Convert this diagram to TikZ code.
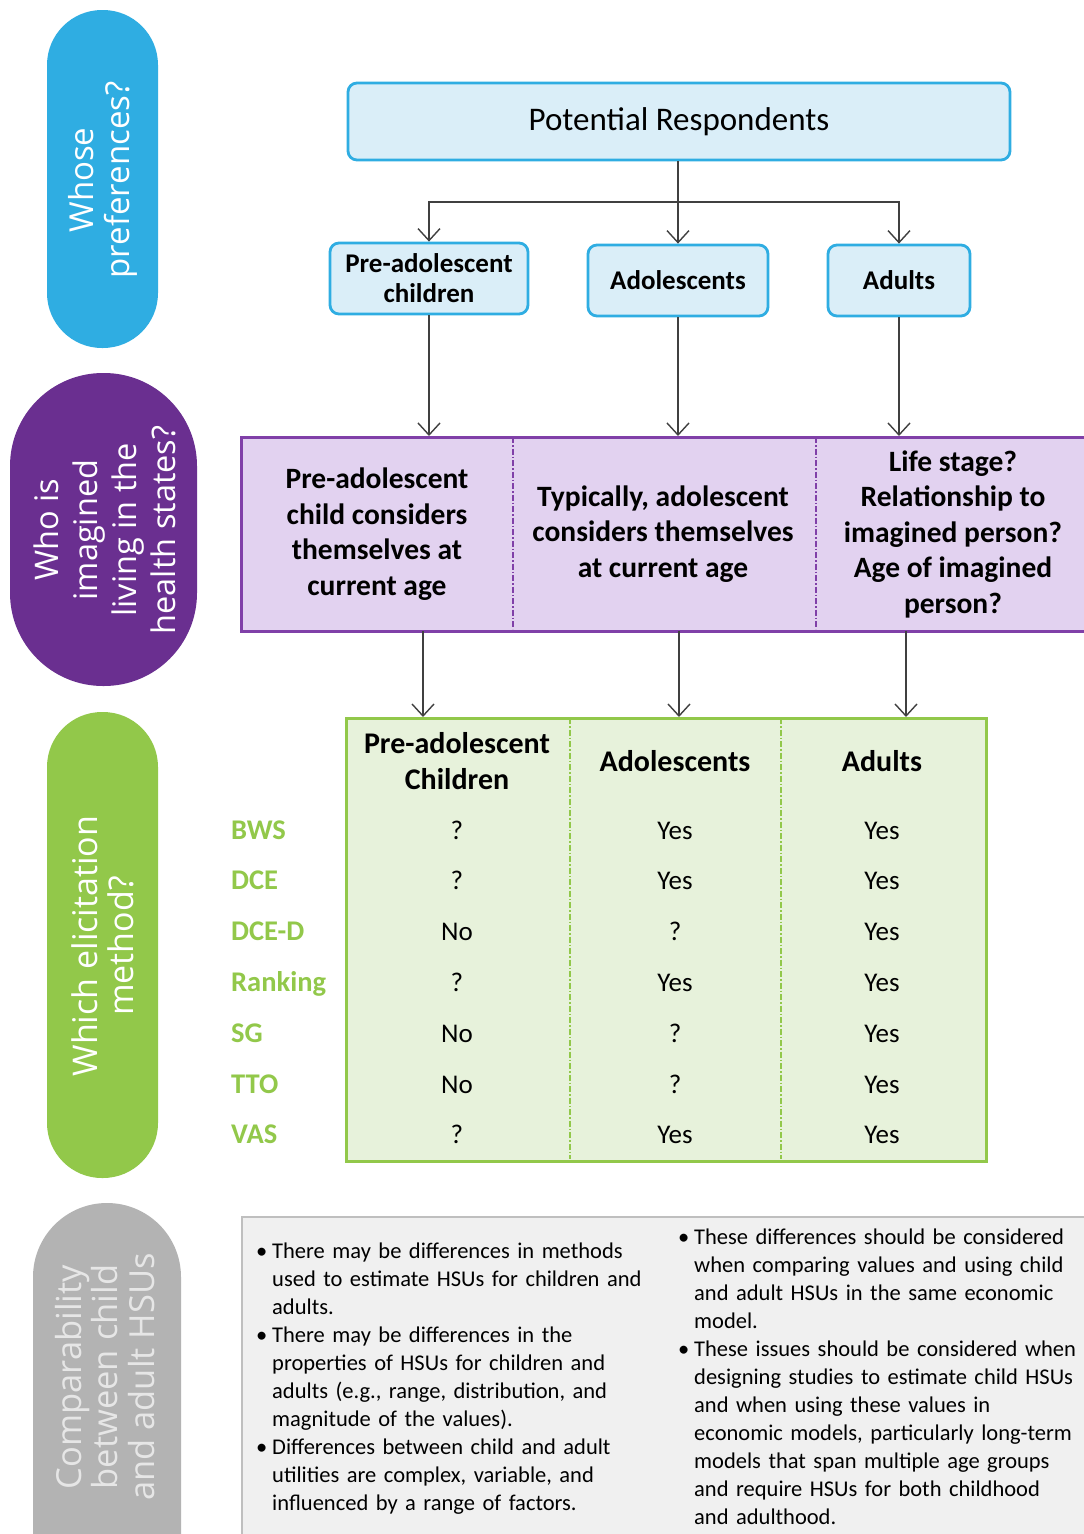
\documentclass[tikz,border=0pt]{standalone}
\usepackage{fontspec}
\setmainfont{Carlito}
\newfontfamily\pillfont{Open Sans}
\usetikzlibrary{arrows.meta}
\definecolor{cblue}{HTML}{2FADE2}
\definecolor{cbluefill}{HTML}{DAEEF8}
\definecolor{cpurple}{HTML}{6A2F90}
\definecolor{cpurpleline}{HTML}{8040A8}
\definecolor{cpurplefill}{HTML}{E2D2F0}
\definecolor{cgreen}{HTML}{92C84A}
\definecolor{cgreenfill}{HTML}{E7F2DB}
\definecolor{cgray}{HTML}{B3B3B3}
\definecolor{cgraytext}{HTML}{E6E6E6}
\definecolor{cgrayfill}{HTML}{F0F0F0}
\definecolor{cgrayline}{HTML}{BFBFBF}
\definecolor{cline}{HTML}{404040}
\begin{document}
\begin{tikzpicture}[x=1pt,y=-1pt,
  conn/.style={draw=cline, line width=1.4pt},
  arr/.style={conn, -{Straight Barb[length=12pt,width=22pt]}},
  bluebox/.style={draw=cblue, fill=cbluefill, line width=2.8pt, rounded corners=9pt, inner sep=0pt, align=center},
  smalltxt/.style={font=\fontsize{27}{30}\selectfont\bfseries},
  pilltxt/.style={text=white, font=\pillfont\fontsize{33}{36}\selectfont, align=center, rotate=90, inner sep=0pt},
  celltxt/.style={font=\fontsize{29.5}{35.5}\selectfont\bfseries, align=center, inner sep=0pt},
  head/.style={font=\fontsize{30}{36}\selectfont\bfseries, align=center, inner sep=0pt},
  val/.style={font=\fontsize{27}{30}\selectfont, inner sep=0pt, text height=18pt, text depth=0pt, anchor=center},
  lab/.style={font=\fontsize{28.5}{30}\selectfont\bfseries, text=cgreen, inner sep=0pt, text height=18pt, text depth=0pt, anchor=west},
  pdiv/.style={draw=cpurpleline, line width=1.1pt, dash pattern=on 6pt off 2pt on 1.5pt off 2pt},
  gdiv/.style={draw=cgreen, line width=1.1pt, dash pattern=on 6pt off 2pt on 1.5pt off 2pt},
  note/.style={font=\fontsize{22.5}{28}\selectfont, align=left, text width=420pt, inner sep=0pt, anchor=base west},
  bul/.style={font=\fontsize{22.5}{28}\selectfont, inner sep=0pt, anchor=base west}
]
\useasboundingbox (0,0) rectangle (1084,1534);
\clip (0,0) rectangle (1084,1534);
\fill[white] (0,0) rectangle (1084,1534);

% left pills
\fill[cblue, rounded corners=55pt] (47,10) rectangle (158,348);
\node[pilltxt] (q1) at (103,180) {Whose\\preferences?};
\fill[cpurple, rounded corners=93pt] (10,373) rectangle (197,686);
\node[pilltxt, font=\pillfont\fontsize{32.5}{39}\selectfont] (q2) at (105,530) {Who is\\imagined\\living in the\\health states?};
\fill[cgreen, rounded corners=55pt] (47,712) rectangle (158,1178);
\node[pilltxt, font=\pillfont\fontsize{34}{36}\selectfont] (q3) at (103,946) {Which elicitation\\method?};
\fill[cgray, rounded corners=74pt] (33,1203) rectangle (181,1640);
\node[pilltxt, text=cgraytext, font=\pillfont\fontsize{34.5}{36.5}\selectfont] (q4) at (105,1377) {Comparability\\between child\\and adult HSUs};

% top boxes
\node[bluebox, minimum width=662pt, minimum height=77pt, font=\fontsize{33}{36}\selectfont] (pot) at (679,121.5) {Potential Respondents};
\node[bluebox, smalltxt, minimum width=198pt, minimum height=71pt] (pre) at (429,278.5) {Pre-adolescent\\children};
\node[bluebox, smalltxt, minimum width=180pt, minimum height=71pt] (adol) at (678,280.5) {Adolescents};
\node[bluebox, smalltxt, minimum width=142pt, minimum height=71pt] (adul) at (899,280.5) {Adults};

\coordinate (split) at (678,202);
\draw[conn] (pot.south -| split) -- (split);
\draw[arr] (split) -| (pre.north);
\draw[arr] (split) -- (adol.north);
\draw[arr] (split) -| (adul.north);

% purple band
\node[draw=cpurpleline, fill=cpurplefill, line width=2.5pt, minimum width=870pt, minimum height=194pt, anchor=north west, inner sep=0pt] (purp) at (240,436) {};
\draw[pdiv] (513,437) -- (513,629);
\draw[pdiv] (816,437) -- (816,629);
\node[celltxt] (ca) at (377,534) {Pre-adolescent\\child considers\\themselves at\\current age};
\node[celltxt] (cb) at (663,534) {Typically, adolescent\\considers themselves\\at current age};
\node[celltxt] (cc) at (953,534) {Life stage?\\Relationship to\\imagined person?\\Age of imagined\\person?};

\draw[arr] (pre.south) -- (pre.south |- purp.north);
\draw[arr] (adol.south) -- (adol.south |- purp.north);
\draw[arr] (adul.south) -- (adul.south |- purp.north);

% green table
\node[draw=cgreen, fill=cgreenfill, line width=2.5pt, minimum width=640pt, minimum height=443pt, anchor=north west, inner sep=0pt] (tab) at (345,717) {};
\draw[gdiv] (570,718) -- (570,1159);
\draw[gdiv] (781,718) -- (781,1159);

\coordinate (d1) at (423,631);
\coordinate (d2) at (679,631);
\coordinate (d3) at (906,631);
\draw[arr] (d1) -- (d1 |- tab.north);
\draw[arr] (d2) -- (d2 |- tab.north);
\draw[arr] (d3) -- (d3 |- tab.north);

\node[head] (h1) at (457,761) {Pre-adolescent\\Children};
\node[head] (h2) at (675,761) {Adolescents};
\node[head] (h3) at (882,761) {Adults};

\node[lab] (l1) at (231,830) {BWS};
\node[lab] (l2) at (231,880) {DCE};
\node[lab] (l3) at (231,931) {DCE-D};
\node[lab] (l4) at (231,982) {Ranking};
\node[lab] (l5) at (231,1033) {SG};
\node[lab] (l6) at (231,1084) {TTO};
\node[lab] (l7) at (231,1134) {VAS};

\node[val] (a1) at (457,830) {?};   \node[val] (b1) at (675,830) {Yes}; \node[val] (c1) at (882,830) {Yes};
\node[val] (a2) at (457,880) {?};   \node[val] (b2) at (675,880) {Yes}; \node[val] (c2) at (882,880) {Yes};
\node[val] (a3) at (457,931) {No};  \node[val] (b3) at (675,931) {?};   \node[val] (c3) at (882,931) {Yes};
\node[val] (a4) at (457,982) {?};   \node[val] (b4) at (675,982) {Yes}; \node[val] (c4) at (882,982) {Yes};
\node[val] (a5) at (457,1033) {No}; \node[val] (b5) at (675,1033) {?};  \node[val] (c5) at (882,1033) {Yes};
\node[val] (a6) at (457,1084) {No}; \node[val] (b6) at (675,1084) {?};  \node[val] (c6) at (882,1084) {Yes};
\node[val] (a7) at (457,1134) {?};  \node[val] (b7) at (675,1134) {Yes};\node[val] (c7) at (882,1134) {Yes};

% bottom grey box
\node[draw=cgrayline, fill=cgrayfill, line width=2pt, minimum width=870pt, minimum height=340pt, anchor=north west, inner sep=0pt] (gbox) at (241,1216) {};

\node[bul] (bl1) at (256,1258) {•};
\node[note] (tl1) at (272,1258) {There may be differences in methods\\used to estimate HSUs for children and\\adults.};
\node[bul] (bl2) at (256,1342) {•};
\node[note] (tl2) at (272,1342) {There may be differences in the\\properties of HSUs for children and\\adults (e.g., range, distribution, and\\magnitude of the values).};
\node[bul] (bl3) at (256,1454) {•};
\node[note] (tl3) at (272,1454) {Differences between child and adult\\utilities are complex, variable, and\\influenced by a range of factors.};

\node[bul] (br1) at (678,1244) {•};
\node[note] (tr1) at (694,1244) {These differences should be considered\\when comparing values and using child\\and adult HSUs in the same economic\\model.};
\node[bul] (br2) at (678,1356) {•};
\node[note] (tr2) at (694,1356) {These issues should be considered when\\designing studies to estimate child HSUs\\and when using these values in\\economic models, particularly long-term\\models that span multiple age groups\\and require HSUs for both childhood\\and adulthood.};
\end{tikzpicture}
\end{document}
